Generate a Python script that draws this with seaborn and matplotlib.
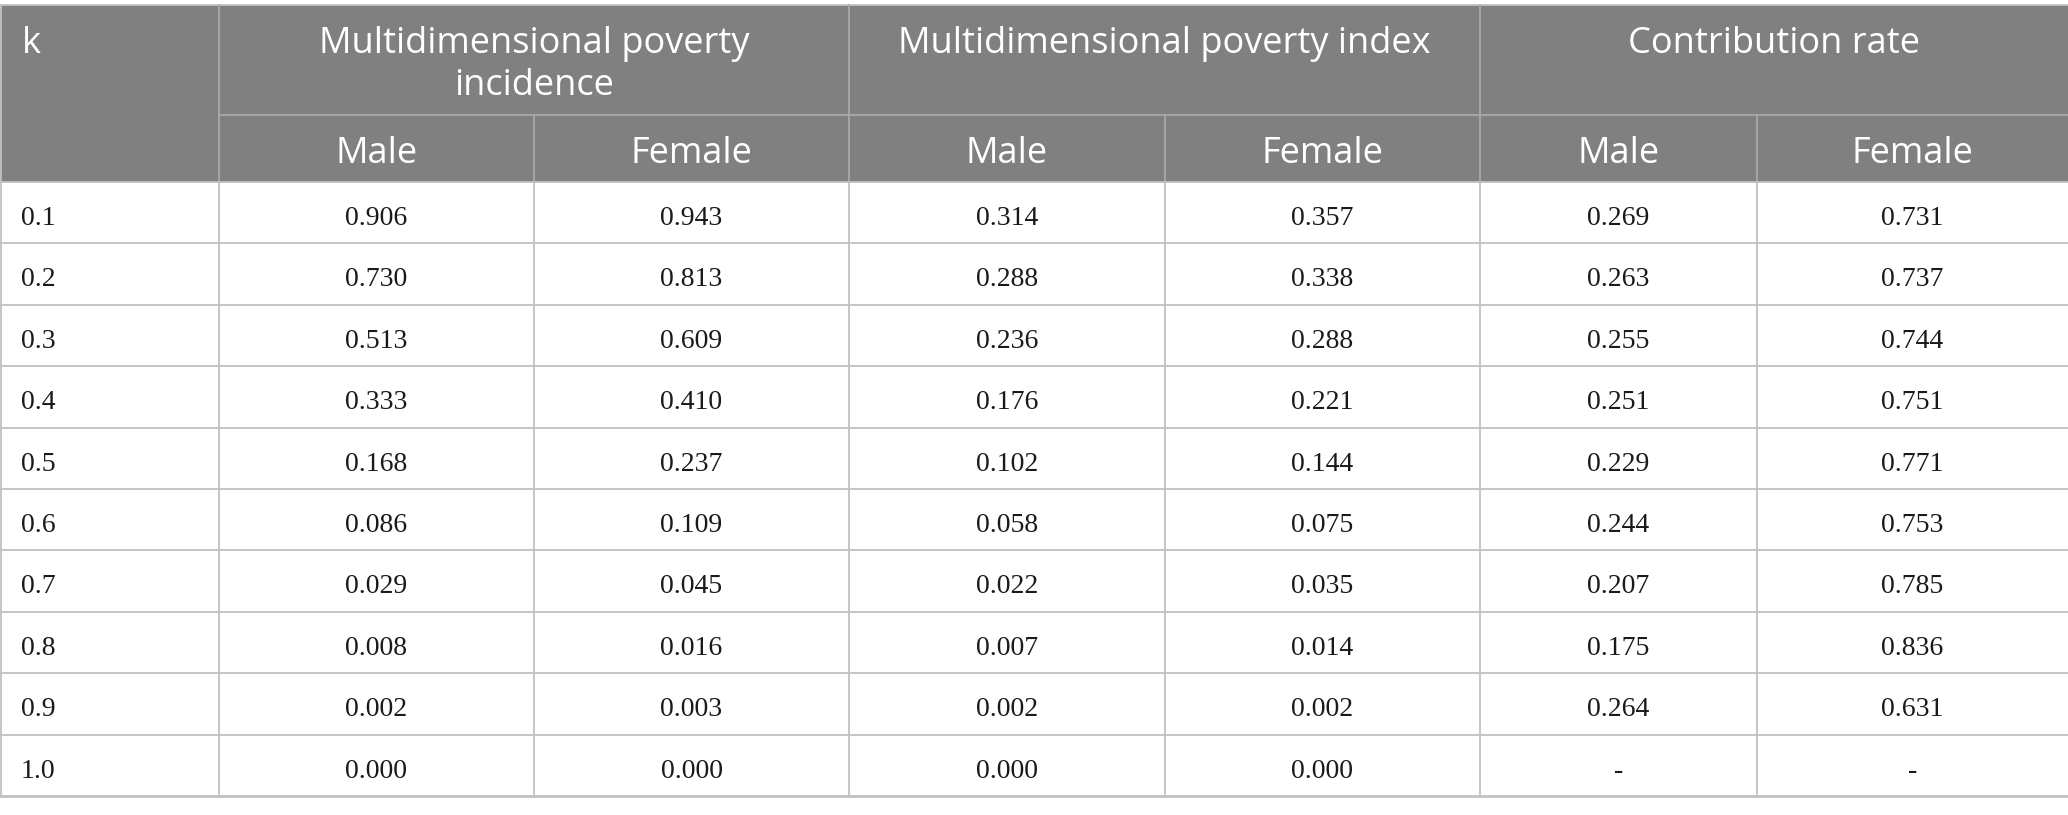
import matplotlib
matplotlib.use("Agg")
import matplotlib.pyplot as plt
import seaborn as sns
from matplotlib.patches import Rectangle

# ---------------- data ----------------
k_values = ["0.1", "0.2", "0.3", "0.4", "0.5", "0.6", "0.7", "0.8", "0.9", "1.0"]
incidence_male = ["0.906", "0.730", "0.513", "0.333", "0.168", "0.086", "0.029", "0.008", "0.002", "0.000"]
incidence_female = ["0.943", "0.813", "0.609", "0.410", "0.237", "0.109", "0.045", "0.016", "0.003", "0.000"]
index_male = ["0.314", "0.288", "0.236", "0.176", "0.102", "0.058", "0.022", "0.007", "0.002", "0.000"]
index_female = ["0.357", "0.338", "0.288", "0.221", "0.144", "0.075", "0.035", "0.014", "0.002", "0.000"]
contrib_male = ["0.269", "0.263", "0.255", "0.251", "0.229", "0.244", "0.207", "0.175", "0.264", "-"]
contrib_female = ["0.731", "0.737", "0.744", "0.751", "0.771", "0.753", "0.785", "0.836", "0.631", "-"]

first_header = "k"
group_headers = ["Multidimensional poverty\nincidence", "Multidimensional poverty index", "Contribution rate"]
sub_headers = ["Male", "Female"]

columns = [k_values, incidence_male, incidence_female, index_male, index_female,
           contrib_male, contrib_female]

# ---------------- layout ----------------
W, H = 2068, 815
col_edges = [0, 219, 534, 849, 1165, 1480, 1757, 2068]
top, mid, head_bottom, table_bottom = 5, 115, 182, 796
n_rows = len(k_values)
row_h = (table_bottom - head_bottom) / n_rows

header_bg = "#808080"
line_col = "#c2c2c2"
head_line = "#a9a9a9"

sns.set_theme(style="white")
plt.rcParams["font.family"] = ["Open Sans", "DejaVu Sans"]

fig = plt.figure(figsize=(W / 100, H / 100), dpi=100)
ax = fig.add_axes([0, 0, 1, 1])
ax.set_xlim(0, W)
ax.set_ylim(H, 0)
ax.axis("off")

# header background
ax.add_patch(Rectangle((0, top), W, head_bottom - top, facecolor=header_bg, edgecolor="none", zorder=1))

# header lines
lw = 1.3
ax.plot([0, W], [top, top], color=line_col, lw=lw, zorder=3)
ax.plot([col_edges[1], W], [mid, mid], color=head_line, lw=lw, zorder=3)
for i, x in enumerate(col_edges[1:-1], start=1):
    if i in (1, 3, 5):
        ax.plot([x, x], [top, head_bottom], color=head_line, lw=lw, zorder=3)
    else:
        ax.plot([x, x], [mid, head_bottom], color=head_line, lw=lw, zorder=3)

# body lines
for r in range(n_rows + 1):
    y = head_bottom + r * row_h
    ax.plot([0, W], [y, y], color=line_col, lw=lw if r < n_rows else 2.0, zorder=3)
for x in col_edges[:-1]:
    xx = max(x, 1)
    ax.plot([xx, xx], [head_bottom, table_bottom], color=line_col, lw=lw, zorder=3)
ax.plot([1, 1], [top, head_bottom], color=line_col, lw=lw, zorder=3)

head_fs = 26
data_fs = 20
head_kw = dict(color="white", fontsize=head_fs, fontweight="normal", va="baseline", zorder=4)

# header texts
ax.text(22, 53, first_header, ha="left", **head_kw)
for g, label in enumerate(group_headers):
    x0, x1 = col_edges[1 + 2 * g], col_edges[3 + 2 * g]
    cx = (x0 + x1) / 2
    for li, line in enumerate(label.split("\n")):
        ax.text(cx, 53 + li * 42, line, ha="center", **head_kw)
    for s, sub in enumerate(sub_headers):
        a, b = col_edges[1 + 2 * g + s], col_edges[2 + 2 * g + s]
        ax.text((a + b) / 2, 163, sub, ha="center", **head_kw)

# body texts
for c, values in enumerate(columns):
    for r, v in enumerate(values):
        y = head_bottom + r * row_h + 43
        if c == 0:
            ax.text(21, y, v, fontsize=data_fs, family=["Liberation Serif", "DejaVu Serif"],
                    color="#1a1a1a", ha="left", va="baseline", zorder=4)
        else:
            cx = (col_edges[c] + col_edges[c + 1]) / 2
            ax.text(cx, y, v, fontsize=data_fs, family=["Liberation Serif", "DejaVu Serif"],
                    color="#1a1a1a", ha="center", va="baseline", zorder=4)

fig.savefig("out.png", dpi=100, facecolor="white")
